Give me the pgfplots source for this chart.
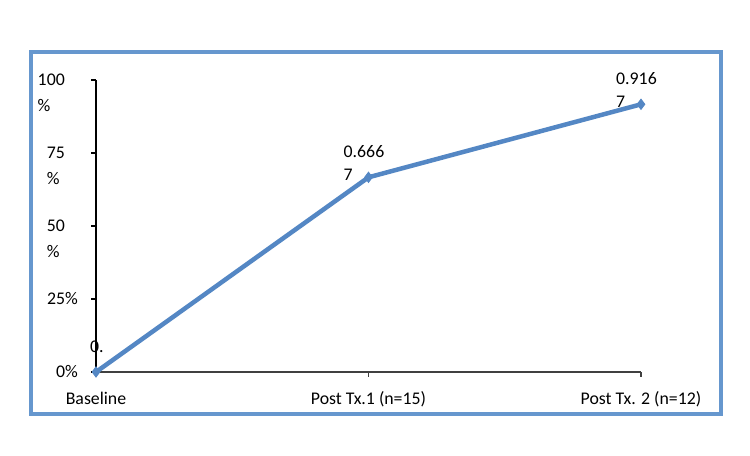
\documentclass[border=0pt]{standalone}
\usepackage{pgfplots}
\pgfplotsset{compat=1.18}
\usepackage{fontspec}
\setmainfont{Carlito}
\definecolor{lineblue}{RGB}{84,135,196}
\definecolor{frameblue}{RGB}{102,151,206}
\definecolor{xaxgray}{RGB}{64,64,64}
\newcommand{\chartfont}{\fontsize{17.8bp}{23bp}\selectfont}
\begin{document}
\begin{tikzpicture}[x=1bp,y=1bp, font=\chartfont]
\path (0,0) rectangle (750,456);
\draw[frameblue, line width=3.5bp] (31,42) rectangle (721,404);
\begin{axis}[
  at={(96bp,84bp)}, anchor=south west,
  scale only axis, width=545bp, height=292bp,
  xmin=0, xmax=2, ymin=0, ymax=1,
  axis x line=bottom, axis y line=left,
  axis line style={-, line width=1.5bp},
  x axis line style={xaxgray},
  y axis line style={black},
  xtick={0,1,2}, xticklabels={Baseline, Post Tx.1 (n=15), Post Tx.{ }2 (n=12)},
  ytick={0,0.25,0.5,0.75,1},
  yticklabels={0\%, 25\%, {50\hspace*{13bp}\\[3bp]\%}, {75\hspace*{13bp}\\[3bp]\%}, {100\hspace*{13bp}\\[3bp]\%}},
  tick align=outside,
  major tick length=5bp,
  tick style={black, line width=1.5bp},
  xtick style={xaxgray},
  tick label style={font=\chartfont},
  yticklabel style={anchor=north east, align=left, inner sep=0pt, xshift=-13bp, yshift=6.5bp},
  xticklabel style={anchor=base, inner sep=0pt, yshift=-28bp},
  clip=false,
]
\addplot[lineblue, line width=4.5bp, mark=diamond*, mark size=5bp, mark options={solid, line width=1bp}] coordinates {(0,0) (1,0.6667) (2,0.9167)};
\addplot[draw=none, point meta=explicit symbolic,
  nodes near coords={\pgfplotspointmeta\\7},
  every node near coord/.style={font=\chartfont, anchor=west, align=left, inner sep=0pt, xshift=-25bp, yshift=14bp, text=black}]
  coordinates {(1,0.6667) [0.666] (2,0.9167) [0.916]};
\addplot[draw=none, point meta=explicit symbolic,
  nodes near coords={\pgfplotspointmeta},
  every node near coord/.style={font=\chartfont, anchor=west, inner sep=0pt, xshift=-6bp, yshift=25bp, text=black}]
  coordinates {(0,0) [0.]};
\end{axis}
\end{tikzpicture}
\end{document}
